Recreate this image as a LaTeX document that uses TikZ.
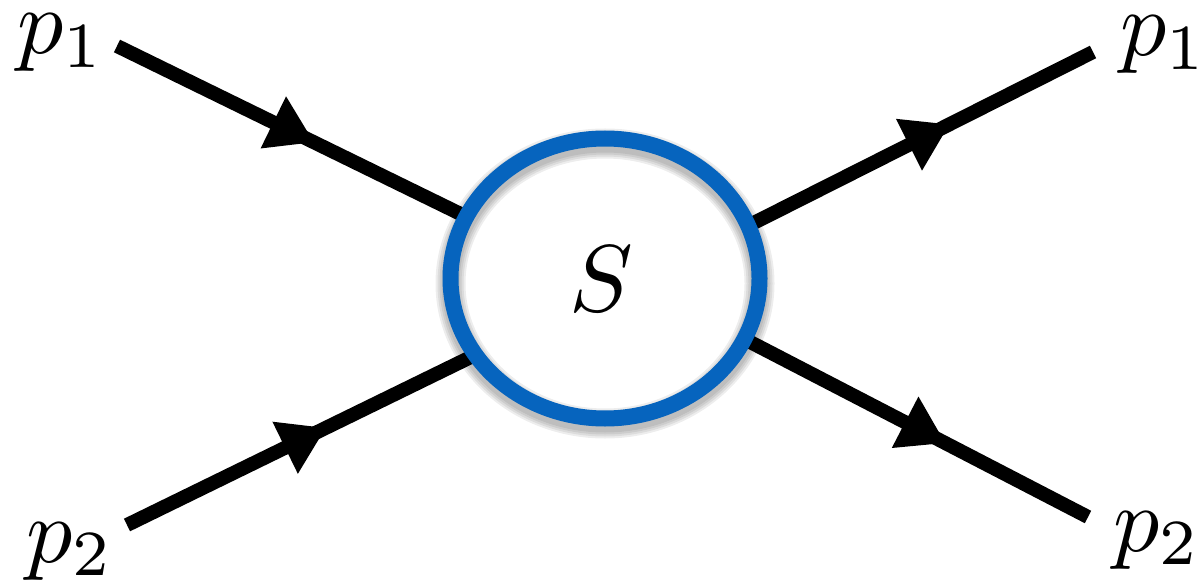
\documentclass[tikz,border=0pt]{standalone}
\usetikzlibrary{decorations.markings,shapes.geometric}
\definecolor{ringblue}{RGB}{6,100,190}
\tikzset{
  leg/.style={line width=14pt, black},
  midarrow/.style={postaction={decorate}, decoration={markings,
     mark=at position #1 with {\fill (0pt,0pt) -- (-45pt,29pt) -- (-45pt,-29pt) -- cycle;}}},
  lbl/.style={anchor=base, scale=9.2, inner sep=0pt},
  blobfill/.style={ellipse, fill=white, draw=none,
     minimum width=309pt, minimum height=280pt, inner sep=0pt},
  ring/.style={draw=ringblue, line width=16pt},
  shade/.style={draw=black, opacity=0.07}
}
\begin{document}
\begin{tikzpicture}[x=1pt,y=-1pt]
\useasboundingbox (0,0) rectangle (1198,585);
% label nodes
\node[lbl] (p1l) at (61,54) {$p_1$};
\node[lbl] (p2l) at (70,562) {$p_2$};
\node[lbl] (p1r) at (1164,56) {$p_1$};
\node[lbl] (p2r) at (1157,551) {$p_2$};
% leg end points
\coordinate (a1) at (117,46);
\coordinate (a2) at (127,525);
\coordinate (b1) at (1093,52);
\coordinate (b2) at (1088,517);
\coordinate (ia1) at (520,243);
\coordinate (ia2) at (520,333);
\coordinate (ib1) at (700,250);
\coordinate (ib2) at (700,316);
% legs
\draw[leg, midarrow=219pt] (a1) -- (ia1);
\draw[leg, midarrow=221pt] (a2) -- (ia2);
\draw[leg, midarrow=279pt] (ib1) -- (b1);
\draw[leg, midarrow=276pt] (ib2) -- (b2);
% blob with soft shadow
\node[blobfill] (S) at (605,278.5) {};
\foreach \w in {18,22,26,30}
  \draw[shade, line width=\w pt] ([yshift=-5pt]S.center) ellipse [x radius=154.5pt, y radius=140pt];
\draw[ring] (S.center) ellipse [x radius=154.5pt, y radius=140pt];
\node[scale=9.5, inner sep=0pt] (Slbl) at (601,279) {$S$};
\end{tikzpicture}
\end{document}
